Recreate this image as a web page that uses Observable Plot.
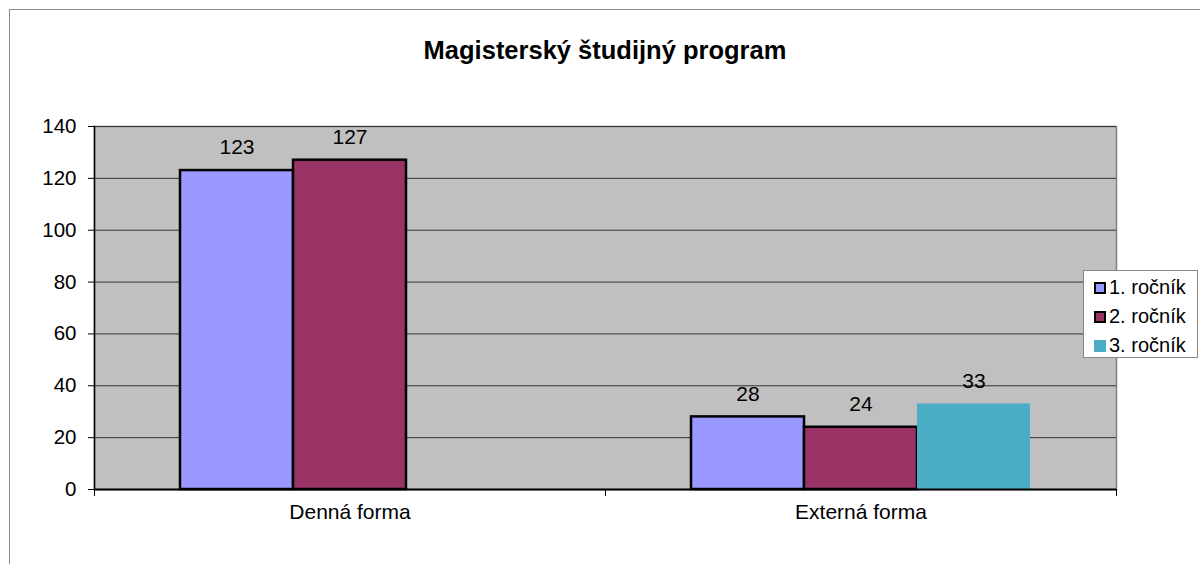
<!DOCTYPE html>
<html><head><meta charset="utf-8">
<script src="https://cdn.jsdelivr.net/npm/d3@7"></script>
<script src="https://cdn.jsdelivr.net/npm/@observablehq/plot@0.6"></script>
<style>
body{margin:0;background:#fff;font-family:"Liberation Sans",Arial,sans-serif;}
#wrap{position:relative;width:1200px;height:564px;overflow:hidden;background:#fff;}
#outer{position:absolute;left:9px;top:9px;width:1300px;height:700px;border-left:1px solid #8c8c8c;border-top:1px solid #8c8c8c;}
#title{position:absolute;left:0;width:1210px;top:35px;text-align:center;font-weight:bold;font-size:25.5px;line-height:30px;}
#chart{position:absolute;left:0;top:0;}
#legend{position:absolute;left:1083px;top:270px;width:115px;height:88px;border:1px solid #888;background:#fff;box-sizing:border-box;padding-top:2px;}
.item{display:flex;align-items:center;height:29px;font-size:20px;padding-left:10px;}
.sw{width:8px;height:8px;margin-right:3px;box-sizing:content-box;}
</style>
</head><body>
<div id="wrap">
  <div id="outer"></div>
  <div id="chart"></div>
  <div id="title"></div>
  <div id="legend"></div>
</div>
<script>
const titleText = "Magisterský študijný program";
const categories = ["Denná forma", "Externá forma"];
const series = ["1. ročník", "2. ročník", "3. ročník"];
const values1 = [123, 28];
const values2 = [127, 24];
const values3 = [null, 33];
const colors = ["#9999ff", "#993366", "#4bacc6"];
const outlined = [true, true, false];
const yTicks = [0, 20, 40, 60, 80, 100, 120, 140];

const data = [];
categories.forEach((c, i) => {
  [values1, values2, values3].forEach((vals, j) => {
    if (vals[i] != null) data.push({cat: c, series: series[j], value: vals[i], outlined: outlined[j]});
  });
});

document.getElementById("title").textContent = titleText;

const W = 1200, H = 564, mt = 126, mb = 75;
const innerH = H - mt - mb;

const plot = Plot.plot({
  width: W, height: H,
  marginLeft: 93, marginRight: 84, marginTop: mt, marginBottom: mb,
  style: {fontFamily: "'Liberation Sans', Arial, sans-serif", fontSize: "20px", background: "transparent", color: "#000"},
  fx: {domain: categories, padding: 0, label: null},
  x: {domain: series, paddingInner: 0, paddingOuter: 0.75, axis: null},
  y: {domain: [0, 140], label: null},
  color: {domain: series, range: colors},
  marks: [
    Plot.frame({facet: "super", fill: "#c0c0c0", stroke: "#808080", strokeWidth: 1.5}),
    Plot.gridY(yTicks, {stroke: "#333", strokeOpacity: 1, strokeWidth: 1}),
    Plot.barY(data, {filter: d => d.outlined, fx: "cat", x: "series", y: "value", fill: "series", stroke: "#000", strokeWidth: 2.5}),
    Plot.barY(data, {filter: d => !d.outlined, fx: "cat", x: "series", y: "value", fill: "series"}),
    Plot.ruleY([0], {stroke: "#000", strokeWidth: 2}),
    Plot.frame({facet: "super", anchor: "left", stroke: "#000", strokeWidth: 1.5}),
    // category boundary ticks below the x axis
    Plot.frame({anchor: "left", insetTop: innerH, insetBottom: -6, stroke: "#000", strokeWidth: 1}),
    Plot.frame({facet: "super", anchor: "right", insetTop: innerH, insetBottom: -6, stroke: "#000", strokeWidth: 1}),
    Plot.text(data, {fx: "cat", x: "series", y: "value", text: d => String(d.value), dy: -23, lineAnchor: "middle", fontSize: 21, fill: "#000"}),
    Plot.axisY(yTicks, {tickSize: 6, tickPadding: 12, fontSize: 20.5, label: null, stroke: "#000"}),
    Plot.axisFx({anchor: "bottom", tickSize: 0, tickPadding: 15, fontSize: 21, label: null})
  ]
});
document.getElementById("chart").appendChild(plot);

const legend = document.getElementById("legend");
series.forEach((s, j) => {
  const item = document.createElement("div");
  item.className = "item";
  const sw = document.createElement("span");
  sw.className = "sw";
  sw.style.background = colors[j];
  sw.style.border = outlined[j] ? "2px solid #000" : "2px solid " + colors[j];
  item.appendChild(sw);
  const t = document.createElement("span");
  t.textContent = s;
  item.appendChild(t);
  legend.appendChild(item);
});
</script>
</body></html>
